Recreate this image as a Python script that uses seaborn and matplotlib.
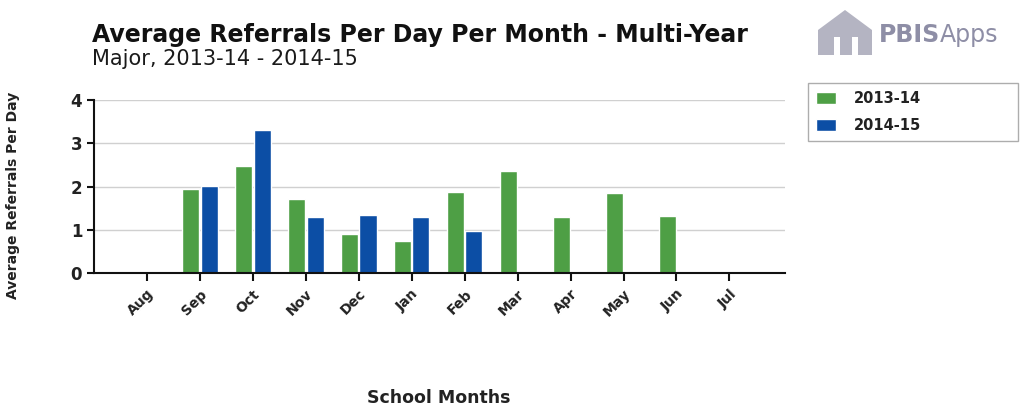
import matplotlib
matplotlib.use("Agg")
import matplotlib.pyplot as plt
import matplotlib.patches as mpatches
import seaborn as sns
import pandas as pd
import numpy as np

months = ["Aug", "Sep", "Oct", "Nov", "Dec", "Jan", "Feb", "Mar", "Apr", "May", "Jun", "Jul"]
years = ["2013-14", "2014-15"]
vals_2013_14 = [np.nan, 1.94, 2.47, 1.71, 0.91, 0.73, 1.88, 2.36, 1.30, 1.86, 1.32, np.nan]
vals_2014_15 = [np.nan, 2.02, 3.31, 1.29, 1.33, 1.29, 0.98, np.nan, np.nan, np.nan, np.nan, np.nan]
colors = ["#4E9F45", "#0C4EA5"]

df = pd.DataFrame({
    "Month": months * 2,
    "Year": [years[0]] * 12 + [years[1]] * 12,
    "Value": vals_2013_14 + vals_2014_15,
})

sns.set_theme(style="white")
plt.rcParams["font.family"] = ["DejaVu Sans"]

W, H = 1021, 413
fig = plt.figure(figsize=(W / 100, H / 100), dpi=100)
ax = fig.add_axes([94 / W, 1 - 273 / H, 691 / W, 173 / H])

sns.barplot(data=df, x="Month", y="Value", hue="Year", order=months, hue_order=years,
            palette=colors, width=0.7, gap=0.08, ax=ax, legend=True, saturation=1)

ax.set_xlim(-1.0, 12.05)
ax.set_ylim(0, 4)
ax.set_yticks([0, 1, 2, 3, 4])
ax.yaxis.grid(True, color="#d0d0d0", linewidth=1)
ax.set_axisbelow(True)
for s in ["top", "right"]:
    ax.spines[s].set_visible(False)
for s in ["left", "bottom"]:
    ax.spines[s].set_color("#111111")
    ax.spines[s].set_linewidth(1.5)
ax.tick_params(axis="x", bottom=True, length=6, width=1.5, color="#111111", pad=4)
ax.tick_params(axis="y", left=True, length=5, width=1.5, color="#111111")
ax.set_xticks(range(len(months)))
ax.set_xticklabels(months, rotation=45, ha="right", rotation_mode="anchor",
                   fontsize=10, fontweight="bold", color="#222222")
for lbl in ax.get_yticklabels():
    lbl.set_fontsize(12)
    lbl.set_fontweight("bold")
    lbl.set_color("#222222")

ax.set_xlabel("")
ax.set_ylabel("Average Referrals Per Day", fontsize=10, fontweight="heavy",
              color="#222222")
ax.yaxis.set_label_coords(-0.107, 0.45)

fig.text(439 / W, 1 - 398 / H, "School Months", ha="center", va="center",
         fontsize=12.5, fontweight="bold", color="#222222")

fig.text(92 / W, 1 - 35 / H, "Average Referrals Per Day Per Month - Multi-Year",
         fontsize=17, fontweight="heavy", color="#111111", ha="left", va="center")
fig.text(92 / W, 1 - 59 / H, "Major, 2013-14 - 2014-15",
         fontsize=15, color="#1a1a1a", ha="left", va="center")

# logo
fig.text(940 / W, 1 - 35 / H, "PBIS", fontsize=17, fontweight="bold", color="#8e8ea6",
         ha="right", va="center")
fig.text(940 / W, 1 - 35 / H, "Apps", fontsize=17, color="#8e8ea6", ha="left", va="center")
house = mpatches.Polygon(
    [[818 / W, 1 - 55 / H], [818 / W, 1 - 30 / H], [845 / W, 1 - 10 / H],
     [872 / W, 1 - 30 / H], [872 / W, 1 - 55 / H]],
    closed=True, transform=fig.transFigure, facecolor="#b4b4c2", edgecolor="none")
fig.patches.append(house)
for x0 in (834, 852):
    fig.patches.append(mpatches.Rectangle((x0 / W, 1 - 55 / H), 6 / W, 18 / H,
                                          transform=fig.transFigure,
                                          facecolor="white", edgecolor="none"))

leg = ax.legend(loc="upper left", bbox_to_anchor=(808 / W, 1 - 141 / H, 210 / W, 58 / H),
                bbox_transform=fig.transFigure, mode="expand", borderaxespad=0,
                frameon=True, fontsize=10.5, handlelength=1.4, handleheight=0.9,
                handletextpad=1.2, borderpad=0.55, labelspacing=0.8, fancybox=False,
                title=None)
leg.get_frame().set_edgecolor("#999999")
leg.get_frame().set_linewidth(1)
for t in leg.get_texts():
    t.set_fontweight("bold")
    t.set_color("#222222")

fig.savefig("out.png", dpi=100)
